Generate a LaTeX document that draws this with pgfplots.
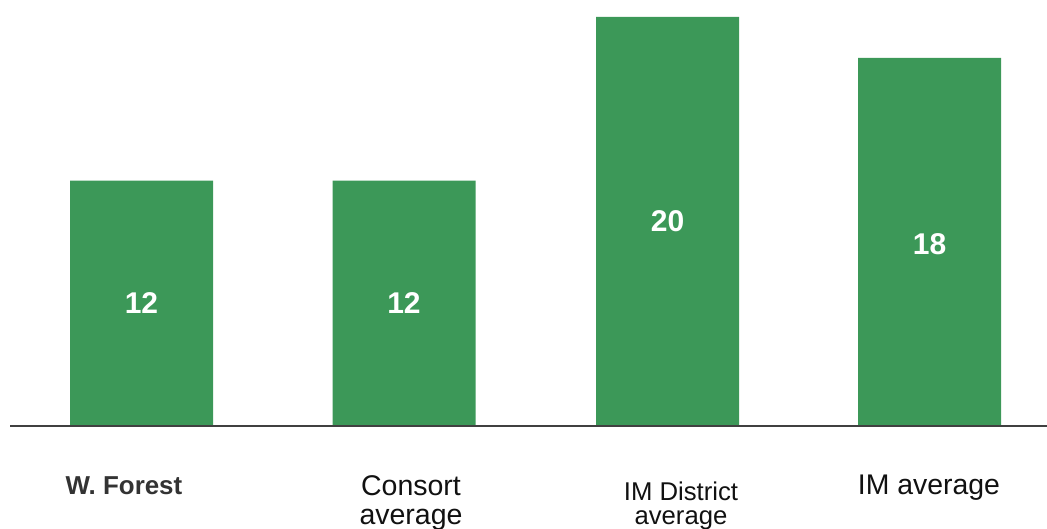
\documentclass[border=0pt]{standalone}
\usepackage{pgfplots}
\pgfplotsset{compat=1.18}
\usepackage{fontspec}
\setmainfont{Liberation Sans}
\definecolor{barg}{HTML}{3C9858}
\definecolor{basel}{HTML}{404040}
\definecolor{lab1}{HTML}{333333}
\definecolor{lab}{HTML}{111111}
\begin{document}
\begin{tikzpicture}
\begin{axis}[
  scale only axis, width=1047bp, height=528bp,
  xmin=0, xmax=1047, ymin=-4.988, ymax=20.83,
  axis lines=none, ticks=none, clip=false,
  ybar, bar width=143,
]
\addplot[fill=barg, draw=none] coordinates {(141.5,12) (404,12) (667.5,20) (929.5,18)};
\draw[basel, line width=1.2bp] (axis cs:10,0) -- (axis cs:1047,0);
\node[white, font=\fontsize{30bp}{31bp}\selectfont\bfseries] at (axis cs:141.5,6) {12};
\node[white, font=\fontsize{30bp}{31bp}\selectfont\bfseries] at (axis cs:404,6) {12};
\node[white, font=\fontsize{30bp}{31bp}\selectfont\bfseries] at (axis cs:667.5,10) {20};
\node[white, font=\fontsize{30bp}{31bp}\selectfont\bfseries] at (axis cs:929.5,8.9) {18};
\node[lab1, anchor=base, inner sep=0pt, font=\fontsize{25.9bp}{26bp}\selectfont\bfseries] at (axis cs:124,-3.374) {W. Forest};
\node[lab, anchor=base, inner sep=0pt, font=\fontsize{28.5bp}{29bp}\selectfont] at (axis cs:411,-3.423) {Consort};
\node[lab, anchor=base, inner sep=0pt, font=\fontsize{28.5bp}{29bp}\selectfont] at (axis cs:411,-4.841) {average};
\node[lab, anchor=base, inner sep=0pt, font=\fontsize{25.7bp}{26bp}\selectfont] at (axis cs:681,-3.619) {IM District};
\node[lab, anchor=base, inner sep=0pt, font=\fontsize{25.7bp}{26bp}\selectfont] at (axis cs:681,-4.841) {average};
\node[lab, anchor=base, inner sep=0pt, font=\fontsize{28.4bp}{29bp}\selectfont] at (axis cs:929,-3.374) {IM average};
\end{axis}
\pgfresetboundingbox
\path[use as bounding box] (current axis.south west) rectangle (current axis.north east);
\end{tikzpicture}
\end{document}
